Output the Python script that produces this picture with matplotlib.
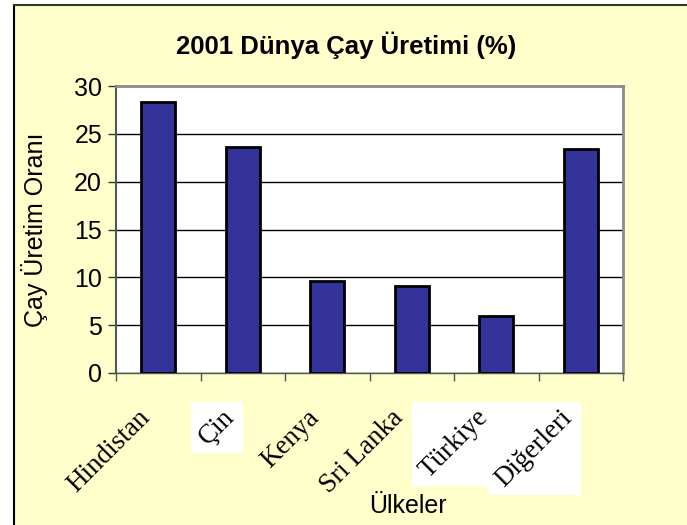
import matplotlib
matplotlib.use("Agg")
import matplotlib.pyplot as plt
import matplotlib.transforms as mtransforms
from matplotlib.patches import Rectangle
from matplotlib.lines import Line2D

countries = ["Hindistan", "Çin", "Kenya", "Sri Lanka", "Türkiye", "Diğerleri"]
share = [28.3, 23.6, 9.6, 9.1, 6.0, 23.4]
boxed = ["Çin", "Türkiye", "Diğerleri"]   # these labels sit on white boxes
yticks = [0, 5, 10, 15, 20, 25, 30]

plt.rcParams["font.family"] = ["Liberation Sans", "DejaVu Sans"]

W, H = 687, 525
fig = plt.figure(figsize=(W / 100, H / 100), dpi=100)
fig.patch.set_facecolor("white")

# yellow chart area with black left/top border
fig.patches.append(Rectangle((14 / W, 0), 1, 1 - 5 / H, transform=fig.transFigure,
                             facecolor="#FFFFCC", edgecolor="none", zorder=-10))
fig.lines.append(Line2D([14 / W, 14 / W], [0, 1 - 5 / H], transform=fig.transFigure,
                        color="black", lw=1.5, zorder=-5))
fig.lines.append(Line2D([14 / W, 1], [1 - 5 / H, 1 - 5 / H], transform=fig.transFigure,
                        color="#333333", lw=1.5, zorder=-5))

left, right, top, bottom = 116, 623, 86, 373
ax = fig.add_axes([left / W, 1 - bottom / H, (right - left) / W, (bottom - top) / H])
ax.set_facecolor("white")

x = range(len(countries))
ax.bar(x, share, width=0.4, color="#333399", edgecolor="black", linewidth=2, zorder=3)

ax.set_xlim(-0.5, len(countries) - 0.5)
ax.set_ylim(0, 30)
ax.set_yticks(yticks)
ax.yaxis.grid(True, color="black", lw=1, zorder=0)

for s in ["top", "right"]:
    ax.spines[s].set_color("#8c8c8c")
    ax.spines[s].set_linewidth(2)
ax.spines["left"].set_color("#555555")
ax.spines["left"].set_linewidth(1.5)
ax.spines["bottom"].set_color("#555555")
ax.spines["bottom"].set_linewidth(1)

ax.tick_params(axis="y", direction="out", length=6, width=1, color="#333333",
               labelsize=18, pad=4)

ax.set_xticks([i + 0.5 for i in range(len(countries) - 1)] + [-0.5, len(countries) - 0.5],
              minor=True)
ax.tick_params(axis="x", which="minor", direction="out", length=6, width=1, color="#555555")
ax.set_xticks(list(x))
ax.set_xticklabels(countries, rotation=45, ha="right", va="top", rotation_mode="anchor",
                   fontfamily="Liberation Serif", fontsize=19.5)
ax.tick_params(axis="x", which="major", length=0, pad=23)
offset = mtransforms.ScaledTranslation(-15 / 72, 0, fig.dpi_scale_trans)
for t in ax.get_xticklabels():
    t.set_transform(t.get_transform() + offset)

ax.set_ylabel("Çay Üretim Oranı", fontsize=18)
ax.yaxis.label.set_family("Liberation Sans")
ax.yaxis.set_label_coords(-0.135, 0.5)
fig.text(408 / W, 1 - 506 / H, "Ülkeler", ha="center", va="center", fontsize=18)
fig.text(346 / W, 1 - 45 / H, "2001 Dünya Çay Üretimi (%)", ha="center", va="center",
         fontsize=18.5, fontweight="bold")

# white boxes behind some labels (axis aligned, like pasted pictures)
fig.canvas.draw()
r = fig.canvas.get_renderer()
for t in ax.get_xticklabels():
    if t.get_text() in boxed:
        bb = t.get_window_extent(r)
        fig.patches.append(Rectangle(((bb.x0 - 3) / W, (bb.y0 - 3) / H),
                                     (bb.width + 6) / W, (bb.height + 6) / H,
                                     transform=fig.transFigure, facecolor="white",
                                     edgecolor="none", zorder=-4))

fig.savefig("out.png", dpi=100)
